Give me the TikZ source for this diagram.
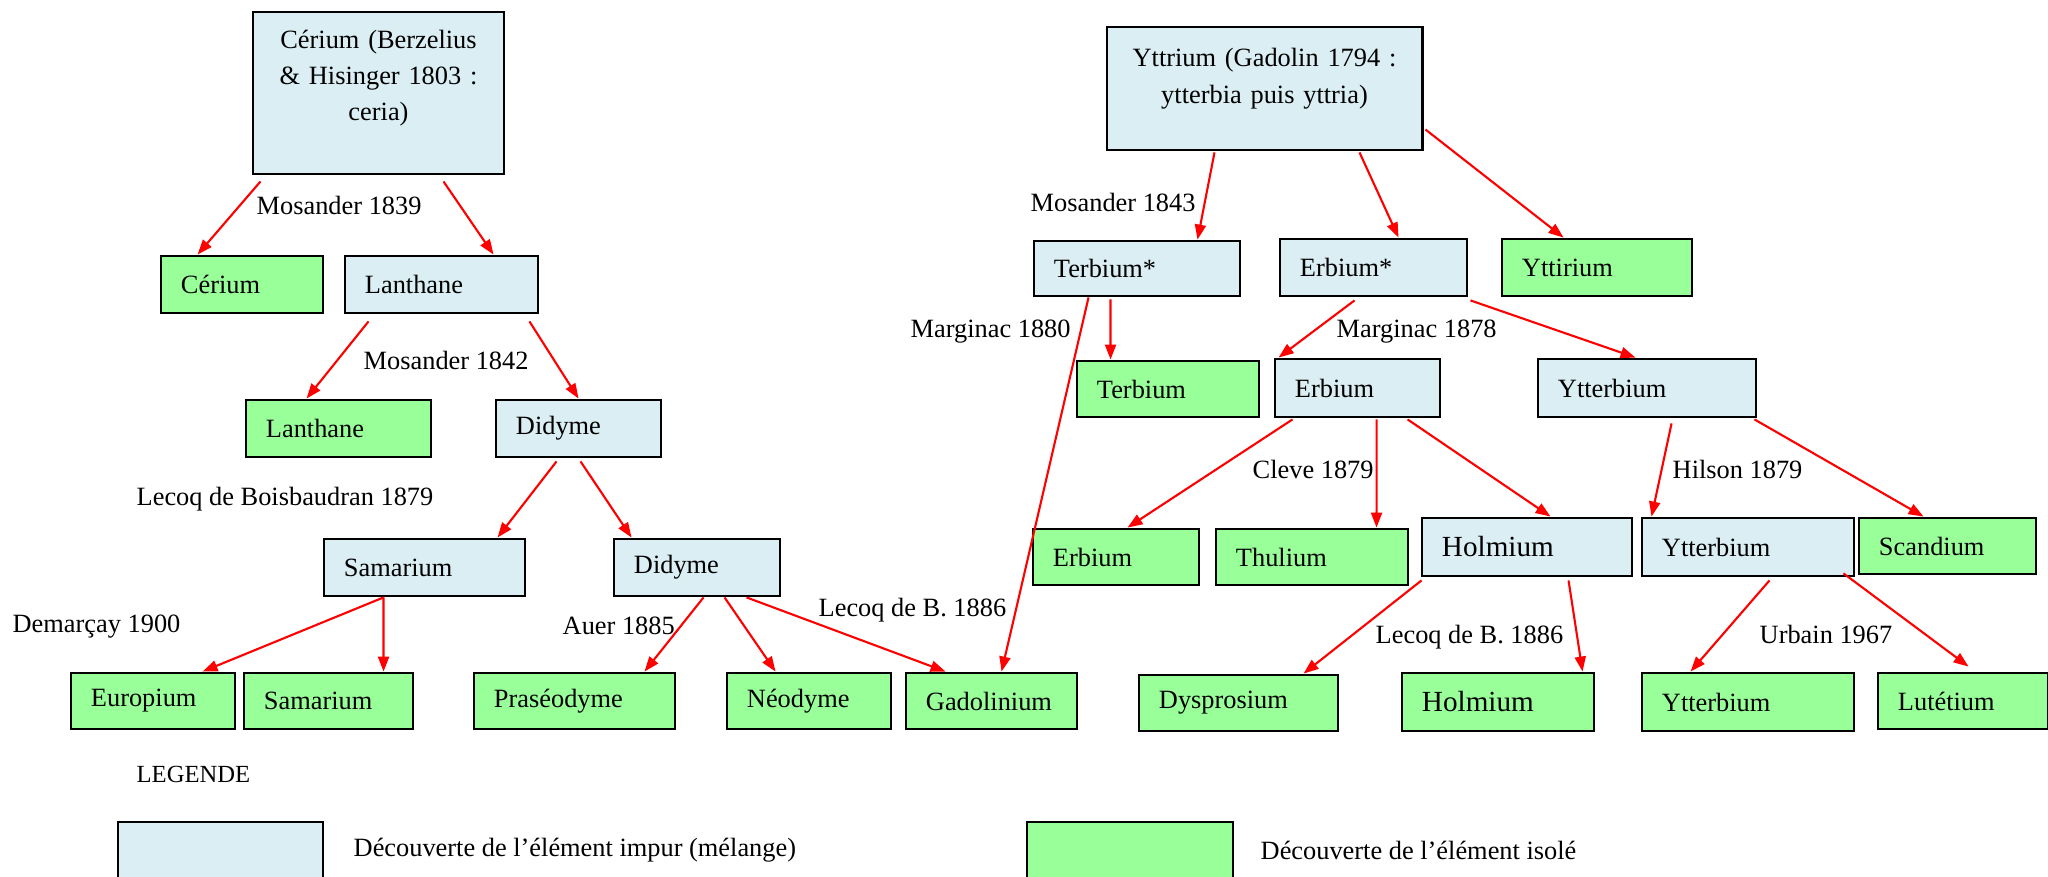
\documentclass[tikz,border=0pt]{standalone}
\usepackage{fontspec}
\setmainfont{Liberation Serif}
\usetikzlibrary{arrows.meta}
\definecolor{bleuclair}{RGB}{218,238,243}
\definecolor{vertclair}{RGB}{153,255,153}

\begin{document}
\begin{tikzpicture}[x=0.01cm, y=-0.01cm]
        \tikzstyle{every node}=[font=\fontsize{7.5}{10.2}\selectfont]
        \tikzstyle{boite}=[draw=black, line width=0.8pt, rectangle, align=left, inner xsep=0.2cm, inner ysep=0pt]
        \tikzstyle{impur}=[boite, fill=bleuclair]
        \tikzstyle{isole}=[boite, fill=vertclair]
        \tikzstyle{fleche}=[draw=red, line width=0.6pt, -{Triangle[length=0.15cm, width=0.11cm]}]
        \tikzstyle{date}=[anchor=west, inner sep=0pt]
        \tikzstyle{grand}=[font=\fontsize{8.3}{10.2}\selectfont]
        \useasboundingbox (0,0) rectangle (2048,877);

        % branche du cerium
        \node[impur, align=center, text width=2.11cm, minimum height=1.62cm] (cer0) at (378.5,93) {Cérium (Berzelius\\ \& Hisinger 1803 :\\ ceria)\\[-3.4pt] \strut};
        \node[isole, text width=1.22cm, minimum height=0.57cm] (cerG) at (242,284.5) {Cérium};
        \node[impur, text width=1.53cm, minimum height=0.57cm] (lanB) at (441.5,284.5) {Lanthane};
        \node[isole, text width=1.45cm, minimum height=0.57cm] (lanG) at (338.5,428.5) {Lanthane};
        \node[impur, text width=1.25cm, minimum height=0.57cm] (didB) at (578.5,428.5) {Didyme};
        \node[impur, text width=1.61cm, minimum height=0.57cm] (samB) at (424.5,567.5) {Samarium};
        \node[impur, text width=1.26cm, minimum height=0.57cm] (didB2) at (697,567.5) {Didyme};
        \node[isole, text width=1.24cm, minimum height=0.56cm] (eurG) at (153,701) {Europium};
        \node[isole, text width=1.29cm, minimum height=0.56cm] (samG) at (328.5,701) {Samarium};
        \node[isole, text width=1.61cm, minimum height=0.56cm] (praG) at (574.5,701) {Praséodyme};
        \node[isole, text width=1.24cm, minimum height=0.56cm] (neoG) at (809,701) {Néodyme};
        \node[isole, text width=1.31cm, minimum height=0.56cm] (gadG) at (991.5,701) {Gadolinium};

        % branche de l'yttrium
        \node[impur, align=center, text width=2.75cm, minimum height=1.23cm] (ytt0) at (1264.5,88.5) {Yttrium (Gadolin 1794 :\\[0.3pt] ytterbia puis yttria)\\[-6pt] \strut};
        \node[impur, text width=1.66cm, minimum height=0.55cm] (terB) at (1137,268.5) {Terbium*};
        \node[impur, text width=1.47cm, minimum height=0.57cm] (erbB) at (1373.5,267.5) {Erbium*};
        \node[isole, text width=1.50cm, minimum height=0.57cm] (yttG) at (1597,267.5) {Yttirium};
        \node[isole, text width=1.42cm, minimum height=0.56cm] (terG) at (1168,389) {Terbium};
        \node[impur, text width=1.25cm, minimum height=0.58cm] (erbB2) at (1357.5,388) {Erbium};
        \node[impur, text width=1.78cm, minimum height=0.58cm] (ytbB) at (1647,388) {Ytterbium};
        \node[isole, text width=1.26cm, minimum height=0.56cm] (erbG) at (1116,557) {Erbium};
        \node[isole, text width=1.52cm, minimum height=0.56cm] (thuG) at (1312,557) {Thulium};
        \node[impur, grand, text width=1.70cm, minimum height=0.58cm] (holB) at (1527,547) {Holmium};
        \node[impur, text width=1.72cm, minimum height=0.58cm] (ytbB2) at (1748,547) {Ytterbium};
        \node[isole, text width=1.37cm, minimum height=0.56cm] (scaG) at (1947.5,546) {Scandium};
        \node[isole, text width=1.59cm, minimum height=0.56cm] (dysG) at (1238.5,703) {Dysprosium};
        \node[isole, grand, text width=1.52cm, minimum height=0.58cm] (holG) at (1498,702) {Holmium};
        \node[isole, text width=1.72cm, minimum height=0.58cm] (ytbG) at (1748,702) {Ytterbium};
        \node[isole, text width=1.30cm, minimum height=0.56cm] (lutG) at (1963,701) {Lutétium};

        % decouvreurs
        \node[date] (mos39) at (256,205) {Mosander 1839};
        \node[date] (mos42) at (363,360) {Mosander 1842};
        \node[date] (lecoq79) at (136,499) {Lecoq de Boisbaudran 1879};
        \node[date] (dem00) at (12,627) {Demarçay 1900};
        \node[date] (auer85) at (562,626) {Auer 1885};
        \node[date] (lecoqBa) at (818,610) {Lecoq de B. 1886};
        \node[date] (mos43) at (1030,202) {Mosander 1843};
        \node[date] (marg80) at (910,332) {Marginac 1880};
        \node[date] (marg78) at (1336,332) {Marginac 1878};
        \node[date] (cleve79) at (1252,469) {Cleve 1879};
        \node[date] (hilson79) at (1672,469) {Hilson 1879};
        \node[date] (lecoqBb) at (1375,637) {Lecoq de B. 1886};
        \node[date] (urbain67) at (1759,634) {Urbain 1967};

        % fleches
        \draw[fleche] ([shift={(9,6)}]cer0.south west) -- ([shift={(38,0)}]cerG.north west);
        \draw[fleche] ([shift={(-62,6)}]cer0.south east) -- ([shift={(150,0)}]lanB.north west);
        \draw[fleche] ([shift={(25,7)}]lanB.south west) -- ([shift={(62,0)}]lanG.north west);
        \draw[fleche] ([shift={(-10,7)}]lanB.south east) -- ([shift={(84,0)}]didB.north west);
        \draw[fleche] ([shift={(62,3)}]didB.south west) -- ([shift={(175,0)}]samB.north west);
        \draw[fleche] ([shift={(86,3)}]didB.south west) -- ([shift={(19,0)}]didB2.north west);
        \draw[fleche] ([shift={(61,0)}]samB.south west) -- ([shift={(133,0)}]eurG.north west);
        \draw[fleche] ([shift={(61,0)}]samB.south west) -- ([shift={(141,0)}]samG.north west);
        \draw[fleche] ([shift={(91,0)}]didB2.south west) -- ([shift={(172,0)}]praG.north west);
        \draw[fleche] ([shift={(112,0)}]didB2.south west) -- ([shift={(50,0)}]neoG.north west);
        \draw[fleche] ([shift={(134,0)}]didB2.south west) -- ([shift={(41,0)}]gadG.north west);
        \draw[fleche] ([shift={(56,0)}]terB.south west) -- ([shift={(97,0)}]gadG.north west);
        \draw[fleche] ([shift={(78,2)}]terB.south west) -- ([shift={(35,0)}]terG.north west);
        \draw[fleche] ([shift={(109,1)}]ytt0.south west) -- ([shift={(165,0)}]terB.north west);
        \draw[fleche] ([shift={(254,1)}]ytt0.south west) -- ([shift={(120,0)}]erbB.north west);
        \draw[fleche] ([shift={(2,104)}]ytt0.north east) -- ([shift={(63,0)}]yttG.north west);
        \draw[fleche] ([shift={(76,3)}]erbB.south west) -- ([shift={(5,0)}]erbB2.north west);
        \draw[fleche] ([shift={(2,3)}]erbB.south east) -- ([shift={(99,0)}]ytbB.north west);
        \draw[fleche] ([shift={(19,1)}]erbB2.south west) -- ([shift={(96,0)}]erbG.north west);
        \draw[fleche] ([shift={(103,1)}]erbB2.south west) -- ([shift={(162,0)}]thuG.north west);
        \draw[fleche] ([shift={(134,1)}]erbB2.south west) -- ([shift={(130,0)}]holB.north west);
        \draw[fleche] ([shift={(135,5)}]ytbB.south west) -- ([shift={(11,0)}]ytbB2.north west);
        \draw[fleche] ([shift={(-3,1)}]ytbB.south east) -- ([shift={(66,0)}]scaG.north west);
        \draw[fleche] ([shift={(1,3)}]holB.south west) -- ([shift={(166,0)}]dysG.north west);
        \draw[fleche] ([shift={(148,3)}]holB.south west) -- ([shift={(182,0)}]holG.north west);
        \draw[fleche] ([shift={(129,3)}]ytbB2.south west) -- ([shift={(50,0)}]ytbG.north west);
        \draw[fleche] ([shift={(-12,-4)}]ytbB2.south east) -- ([shift={(92,-5)}]lutG.north west);

        % legende
        \node[date, font=\fontsize{7}{9}\selectfont] (legende) at (136,774) {LEGENDE};
        \draw[fill=bleuclair, line width=0.8pt] (118,822) rectangle (323,890);
        \node[date] (legImpur) at (353,850) {Découverte de l’élément impur (mélange)};
        \draw[fill=vertclair, line width=0.8pt] (1027,822) rectangle (1233,890);
        \node[date] (legIsole) at (1260,850) {Découverte de l’élément isolé};
    \end{tikzpicture}
\end{document}
